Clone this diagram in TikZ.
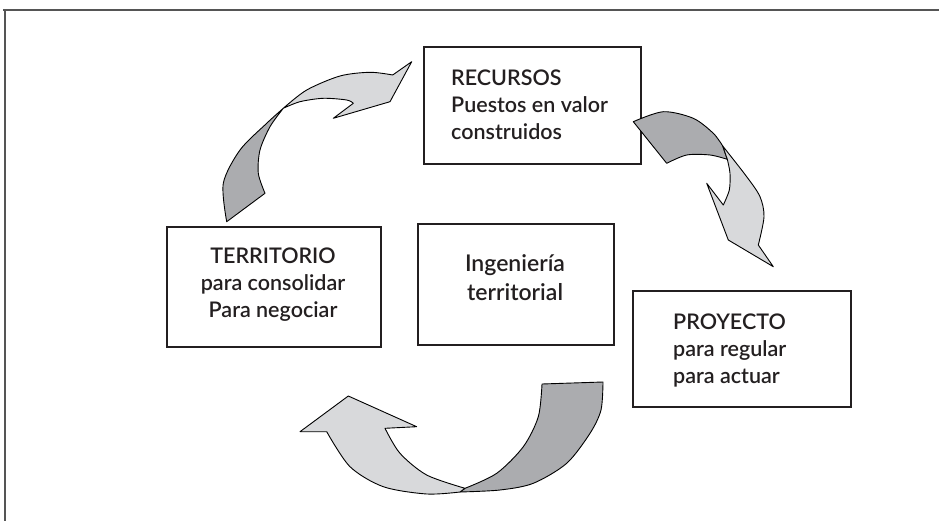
\documentclass[tikz,border=0pt]{standalone}
\usepackage{fontspec}
\setmainfont{Lato}
\newfontfamily\lblfont{Lato Semibold}
\definecolor{ink}{HTML}{231F20}
\definecolor{darkg}{HTML}{ABACAF}
\definecolor{lightg}{HTML}{D8D9DB}
\definecolor{framec}{HTML}{555555}
\begin{document}
\begin{tikzpicture}[x=1pt,y=-1pt,
  box/.style={draw=ink,line width=1.8pt,inner sep=0pt,anchor=north west},
  lbl/.style={font=\lblfont\fontsize{21.5}{27}\selectfont,text=ink,inner sep=0pt},
  biglbl/.style={font=\lblfont\fontsize{23}{28}\selectfont,text=ink,inner sep=0pt},
  dark/.style={fill=darkg,draw=black,line width=0.9pt,line join=round},
  light/.style={fill=lightg,draw=black,line width=0.9pt,line join=round},
  frameline/.style={draw=framec,line width=1.5pt}]
\useasboundingbox (0,0) rectangle (939,521);
% frame
\draw[frameline] (3,10) -- (939,10);
\draw[frameline] (5,10) -- (5,521);
% boxes
\node[box,minimum width=217pt,minimum height=117pt] (rec) at (423,46) {};
\node[box,minimum width=214pt,minimum height=120pt] (terr) at (166,226) {};
\node[box,minimum width=196pt,minimum height=121pt] (ing) at (417,223) {};
\node[box,minimum width=218pt,minimum height=116pt] (proy) at (632,290) {};
% texts
\node[lbl,anchor=base west] (r1) at (451,86) {RECURSOS};
\node[lbl,anchor=base west] (r2) at (451,113) {Puestos en valor};
\node[lbl,anchor=base west] (r3) at (451,140) {construidos};
\node[lbl,anchor=base] (t1) at (273,263) {TERRITORIO};
\node[lbl,anchor=base] (t2) at (273,290) {para consolidar};
\node[lbl,anchor=base] (t3) at (273,317) {Para negociar};
\node[biglbl,anchor=base] (i1) at (515,272) {Ingeniería};
\node[biglbl,anchor=base] (i2) at (515,300) {territorial};
\node[lbl,anchor=base west] (p1) at (673,329) {PROYECTO};
\node[lbl,anchor=base west] (p2) at (673,356) {para regular};
\node[lbl,anchor=base west] (p3) at (673,383) {para actuar};
% arrow 1 : territorio -> recursos
\filldraw[dark] plot[smooth] coordinates {(226.7,221.7)(223.3,183.3)(240,150)(266.7,123.3)(283.3,108.3)}
  -- plot[smooth] coordinates {(283.3,108.3)(270,126.7)(260,150)(258.3,173.3)(265,193.3)} -- cycle;
\filldraw[light] plot[smooth] coordinates {(283.3,108.3)(306.7,90)(340,76)(370,72.3)(392.7,75)}
  -- (411.7,61.7) -- (390,101.7) -- (333.3,118.3) -- (353.3,103.3)
  -- plot[smooth] coordinates {(353.3,103.3)(346.7,100)(323.3,98.3)(300,101.7)(283.3,108.3)} -- cycle;
% arrow 2 : recursos -> proyecto
\filldraw[dark] plot[smooth] coordinates {(633.3,121.7)(663.3,111.7)(693.3,118.3)(713.3,133.3)(722.7,146)}
  -- (727.3,159.3)
  -- plot[smooth] coordinates {(727.3,159.3)(710,155)(686.7,155)(666.7,163.3)} -- cycle;
\filldraw[light] plot[smooth] coordinates {(722.7,146)(746.7,176.7)(760,196.7)(764,216.7)(758.3,245)}
  -- (773.3,266.7) -- (728.3,240) -- (706.7,183.3) -- (723.3,205)
  -- plot[smooth] coordinates {(723.3,205)(729.3,190)(730,173.3)(727.3,159.3)} -- cycle;
% arrow 3 : proyecto -> territorio
\filldraw[dark] (542,384) -- (603,382)
  -- plot[smooth] coordinates {(603,382)(601,410)(590,433.3)(566.7,463.3)(533.3,483.3)(500,490)(460,492)}
  -- (465,488.3)
  -- plot[smooth] coordinates {(465,488.3)(496.7,473.3)(523.3,446.7)(538.3,416.7)(542,384)} -- cycle;
\filldraw[light] plot[smooth] coordinates {(460,492)(426.7,494)(383.3,486.7)(350,466.7)(326.7,431.7)}
  -- (300,431.7) -- (348.3,396) -- (416.7,426.7) -- (385,428.3)
  -- plot[smooth] coordinates {(385,428.3)(400,453.3)(426.7,475)(465,488.3)} -- cycle;
\end{tikzpicture}
\end{document}
